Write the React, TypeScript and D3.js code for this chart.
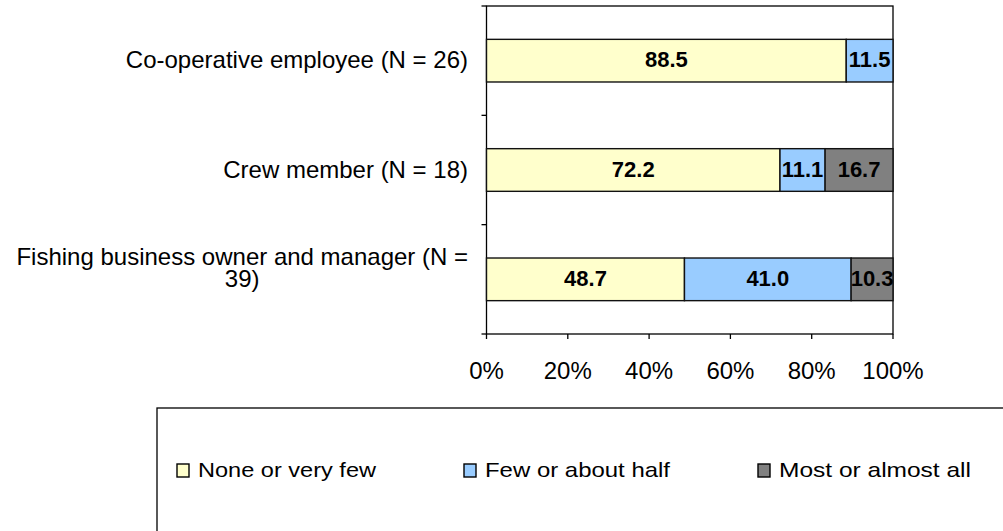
// Stacked horizontal percentage bar chart - share of respondents by role

import { useEffect, useRef } from "react";
import * as d3 from "d3";

const categories = [
  "Co-operative employee (N = 26)",
  "Crew member (N = 18)",
  "Fishing business owner and manager (N = 39)",
];
const seriesNames = ["None or very few", "Few or about half", "Most or almost all"];
const noneValues = [88.5, 72.2, 48.7];
const fewValues = [11.5, 11.1, 41.0];
const mostValues = [0, 16.7, 10.3];
const xTicks = [0, 20, 40, 60, 80, 100];

const colors = ["#FFFFCC", "#99CCFF", "#808080"];
const FONT = "'Liberation Sans', Arial, Helvetica, sans-serif";

export default function App() {
  const svgRef = useRef<SVGSVGElement>(null);

  useEffect(() => {
    if (!svgRef.current) return;
    const svg = d3.select(svgRef.current);
    svg.selectAll("*").remove();

    const width = 1003;
    const height = 531;
    const plot = { left: 486.5, right: 893, top: 6, bottom: 334 };

    const rows = categories.map((c, i) => ({
      category: c,
      [seriesNames[0]]: noneValues[i],
      [seriesNames[1]]: fewValues[i],
      [seriesNames[2]]: mostValues[i],
    }));
    const stacked = d3.stack<any>().keys(seriesNames)(rows);

    const x = d3.scaleLinear().domain([0, 100]).range([plot.left, plot.right]);
    const y = d3
      .scaleBand()
      .domain(categories)
      .range([plot.top, plot.bottom])
      .paddingInner(0.61)
      .paddingOuter(0.305);
    const step = y.step();

    svg.append("rect").attr("width", width).attr("height", height).attr("fill", "#fff");

    // plot frame
    svg
      .append("rect")
      .attr("x", plot.left)
      .attr("y", plot.top)
      .attr("width", plot.right - plot.left)
      .attr("height", plot.bottom - plot.top)
      .attr("fill", "none")
      .attr("stroke", "#000")
      .attr("stroke-width", 1.3);

    // bars
    stacked.forEach((layer, si) => {
      svg
        .append("g")
        .selectAll("rect")
        .data(layer.filter((d) => d[1] - d[0] > 0))
        .join("rect")
        .attr("x", (d) => x(d[0]))
        .attr("y", (d) => y(d.data.category)!)
        .attr("width", (d) => x(d[1]) - x(d[0]))
        .attr("height", y.bandwidth())
        .attr("fill", colors[si])
        .attr("stroke", "#111")
        .attr("stroke-width", 1.4);

      svg
        .append("g")
        .selectAll("text")
        .data(layer.filter((d) => d[1] - d[0] > 0))
        .join("text")
        .attr("x", (d) => (x(d[0]) + x(d[1])) / 2)
        .attr("y", (d) => y(d.data.category)! + y.bandwidth() / 2 + 6.5)
        .attr("text-anchor", "middle")
        .attr("font-family", FONT)
        .attr("font-weight", "bold")
        .attr("font-size", 22)
        .attr("fill", "#000")
        .text((d) => (d[1] - d[0]).toFixed(1));
    });

    // y ticks at band boundaries
    const boundaries = d3.range(categories.length + 1).map((i) => plot.top + i * step);
    svg
      .append("g")
      .selectAll("line")
      .data(boundaries)
      .join("line")
      .attr("x1", plot.left - 5)
      .attr("x2", plot.left)
      .attr("y1", (d) => d)
      .attr("y2", (d) => d)
      .attr("stroke", "#000")
      .attr("stroke-width", 1.3);

    // x axis ticks and labels
    const xAxis = svg.append("g");
    xAxis
      .selectAll("line")
      .data(xTicks)
      .join("line")
      .attr("x1", (d) => x(d))
      .attr("x2", (d) => x(d))
      .attr("y1", plot.bottom)
      .attr("y2", plot.bottom + 5)
      .attr("stroke", "#000")
      .attr("stroke-width", 1.3);
    xAxis
      .selectAll("text")
      .data(xTicks)
      .join("text")
      .attr("x", (d) => x(d))
      .attr("y", 379)
      .attr("text-anchor", "middle")
      .attr("font-family", FONT)
      .attr("font-size", 24)
      .attr("fill", "#000")
      .text((d) => `${d}%`);

    // category labels, wrapped like the original
    const labelRight = 468;
    const maxLabelWidth = 462;
    categories.forEach((cat) => {
      const cy = y(cat)! + y.bandwidth() / 2;
      const t = svg
        .append("text")
        .attr("font-family", FONT)
        .attr("font-size", 24)
        .attr("fill", "#000");
      const words = cat.split(" ");
      const lines: string[] = [];
      let current = "";
      words.forEach((w) => {
        const trial = current ? current + " " + w : w;
        t.text(trial);
        if (current && (t.node() as SVGTextElement).getComputedTextLength() > maxLabelWidth) {
          lines.push(current);
          current = w;
        } else {
          current = trial;
        }
      });
      lines.push(current);
      t.text(null);
      if (lines.length === 1) {
        t.append("tspan")
          .attr("x", labelRight)
          .attr("y", cy + 7.6)
          .attr("text-anchor", "end")
          .text(lines[0]);
      } else {
        const first = t
          .append("tspan")
          .attr("x", labelRight)
          .attr("y", cy - 14.8)
          .attr("text-anchor", "end")
          .text(lines[0]);
        const w = (first.node() as SVGTSpanElement).getComputedTextLength();
        const center = labelRight - w / 2;
        lines.slice(1).forEach((line, i) => {
          t.append("tspan")
            .attr("x", center)
            .attr("y", cy + 7.6 + i * 22)
            .attr("text-anchor", "middle")
            .text(line);
        });
      }
    });

    // legend
    svg
      .append("rect")
      .attr("x", 157)
      .attr("y", 408)
      .attr("width", 900)
      .attr("height", 200)
      .attr("fill", "#fff")
      .attr("stroke", "#000")
      .attr("stroke-width", 1.3);

    const legendX = [177, 464, 758];
    const legendTextWidth = [178, 185, 192];
    seriesNames.forEach((name, i) => {
      svg
        .append("rect")
        .attr("x", legendX[i])
        .attr("y", 464)
        .attr("width", 12)
        .attr("height", 13)
        .attr("fill", colors[i])
        .attr("stroke", "#000")
        .attr("stroke-width", 1.4);
      svg
        .append("text")
        .attr("x", legendX[i] + 21)
        .attr("y", 476.5)
        .attr("font-family", FONT)
        .attr("font-size", 21)
        .attr("fill", "#000")
        .attr("textLength", legendTextWidth[i])
        .attr("lengthAdjust", "spacingAndGlyphs")
        .text(name);
    });
  }, []);

  return (
    <svg
      ref={svgRef}
      width={1003}
      height={531}
      style={{ position: "absolute", left: 0, top: 0, background: "#fff" }}
    />
  );
}
